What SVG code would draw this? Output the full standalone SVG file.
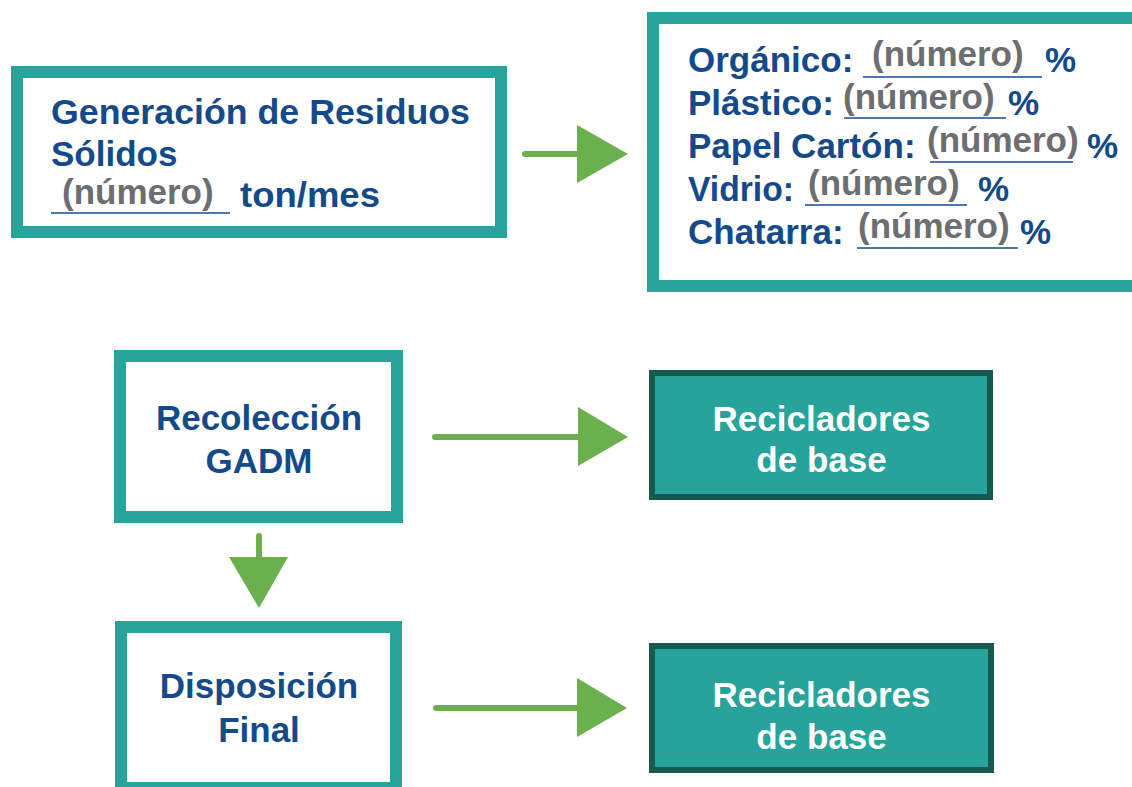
<svg xmlns="http://www.w3.org/2000/svg" width="1132" height="787" viewBox="0 0 1132 787">
<style>
.box{fill:#ffffff;stroke:#27a49c;stroke-width:12}
.dbox{fill:#26a39a;stroke:#15594f;stroke-width:6}
text{font-family:"Liberation Sans",Arial,Helvetica,sans-serif;font-weight:bold;font-size:35px}
.b{fill:#154a8a}
.g{fill:#6d6e71}
.w{fill:#ffffff}
.c{text-anchor:middle}
.ul{stroke:#154a8a;stroke-width:1.6}
.ln{stroke:#6ab04c;stroke-width:6;stroke-linecap:round;fill:none}
.hd{fill:#6ab04c}
</style>
<rect width="1132" height="787" fill="#ffffff"/>
<g id="generacion">
<rect class="box" x="17" y="72" width="484" height="160"/>
<text class="b" x="51" y="124" textLength="419" lengthAdjust="spacingAndGlyphs">Generación de Residuos</text>
<text class="b" x="51" y="166">Sólidos</text>
<line class="ul" x1="51" y1="213" x2="230" y2="213"/>
<text class="g" x="62" y="204">(número)</text>
<text class="b" x="240" y="207" textLength="140" lengthAdjust="spacingAndGlyphs">ton/mes</text>
</g>
<g id="composicion">
<rect class="box" x="653" y="18" width="492" height="268"/>
<text class="b" x="688" y="72">Orgánico:</text>
<line class="ul" x1="863" y1="77" x2="1042" y2="77"/>
<text class="g" x="872" y="66">(número)</text>
<text class="b" x="1045" y="72">%</text>
<text class="b" x="688" y="115">Plástico:</text>
<line class="ul" x1="844" y1="118" x2="1006" y2="118"/>
<text class="g" x="843" y="109">(número)</text>
<text class="b" x="1008" y="115">%</text>
<text class="b" x="688" y="158">Papel Cartón:</text>
<line class="ul" x1="930" y1="162" x2="1073" y2="162"/>
<text class="g" x="927" y="152">(número)</text>
<text class="b" x="1087" y="158">%</text>
<text class="b" x="688" y="201" textLength="106" lengthAdjust="spacingAndGlyphs">Vidrio:</text>
<line class="ul" x1="805" y1="205" x2="967" y2="205"/>
<text class="g" x="808" y="195">(número)</text>
<text class="b" x="978" y="201">%</text>
<text class="b" x="688" y="244">Chatarra:</text>
<line class="ul" x1="857" y1="248" x2="1018" y2="248"/>
<text class="g" x="858" y="238">(número)</text>
<text class="b" x="1020" y="244">%</text>
</g>
<g id="recoleccion">
<rect class="box" x="120" y="356" width="277" height="161"/>
<text class="b c" x="259" y="430">Recolección</text>
<text class="b c" x="259" y="473">GADM</text>
</g>
<g id="recicladores1">
<rect class="dbox" x="652" y="373" width="338" height="124"/>
<text class="w c" x="821.5" y="431">Recicladores</text>
<text class="w c" x="821.5" y="472">de base</text>
</g>
<g id="disposicion">
<rect class="box" x="121" y="627" width="275" height="161"/>
<text class="b c" x="259" y="698">Disposición</text>
<text class="b c" x="259" y="742">Final</text>
</g>
<g id="recicladores2">
<rect class="dbox" x="652" y="646" width="339" height="124"/>
<text class="w c" x="821.5" y="707">Recicladores</text>
<text class="w c" x="821.5" y="749">de base</text>
</g>
<g id="connectors">
<line class="ln" x1="525" y1="154" x2="580" y2="154"/>
<polygon class="hd" points="577,125 628,154 577,183"/>
<line class="ln" x1="435" y1="437" x2="580" y2="437"/>
<polygon class="hd" points="578,407 628,437 578,466"/>
<line class="ln" x1="259" y1="536" x2="259" y2="560"/>
<polygon class="hd" points="229,557 288,557 259,608"/>
<line class="ln" x1="436" y1="708" x2="580" y2="708"/>
<polygon class="hd" points="577,678 627,708 577,737"/>
</g>
</svg>
